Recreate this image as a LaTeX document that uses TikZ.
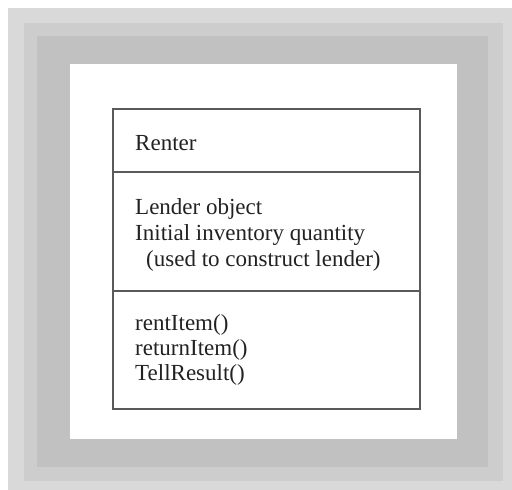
\documentclass[tikz,border=0pt]{standalone}
\usepackage{fontspec}
\setmainfont{Liberation Serif}
\definecolor{gLight}{HTML}{D9D9D9}
\definecolor{gMid}{HTML}{CDCDCD}
\definecolor{gDark}{HTML}{C1C1C1}
\definecolor{boxline}{HTML}{5A5A5A}
\definecolor{txt}{HTML}{222222}
\begin{document}
\begin{tikzpicture}[x=1pt,y=-1pt,
  umltext/.style={anchor=base west,inner sep=0pt,text=txt,font=\fontsize{23}{27}\selectfont},
  umlline/.style={draw=boxline,line width=1.3pt}]
\useasboundingbox (0,0) rectangle (512,490);
\fill[white] (0,0) rectangle (512,490);
\fill[gLight] (8,8) rectangle (512,490);
\fill[gMid] (24,23) rectangle (503,481);
\fill[gDark] (37,36) rectangle (488,467);
\fill[white] (70,64) rectangle (457,439);
% class box
\draw[umlline] (113,109) rectangle (420,409);
\coordinate (s1l) at (113,172);
\coordinate (s1r) at (420,172);
\coordinate (s2l) at (113,291);
\coordinate (s2r) at (420,291);
\draw[umlline] (s1l) -- (s1r);
\draw[umlline] (s2l) -- (s2r);
\node[umltext] (name) at (135,150) {Renter};
\node[umltext] (a1) at (135,214) {Lender object};
\node[umltext] (a2) at (135,240) {Initial inventory quantity};
\node[umltext] (a3) at (146,266) {(used to construct lender)};
\node[umltext] (m1) at (135,330) {rentItem()};
\node[umltext] (m2) at (135,355) {returnItem()};
\node[umltext] (m3) at (135,380) {TellResult()};
\end{tikzpicture}
\end{document}
